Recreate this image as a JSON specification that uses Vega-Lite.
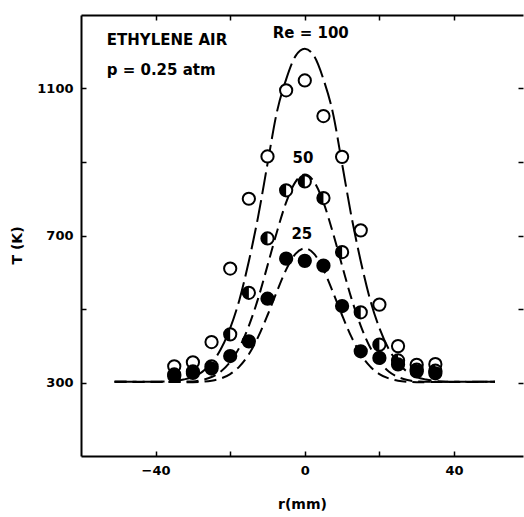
{
  "$schema": "https://vega.github.io/schema/vega-lite/v6.json",
  "width": 442,
  "height": 441,
  "autosize": {"type": "none"},
  "padding": {"left": 81, "top": 15, "right": 1, "bottom": 61},
  "background": "white",
  "config": {
    "view": {"stroke": null},
    "font": "DejaVu Sans",
    "axis": {
      "grid": false,
      "domainColor": "black",
      "domainWidth": 2,
      "tickColor": "black",
      "tickWidth": 1.5,
      "tickSize": -5,
      "labelColor": "black",
      "labelFont": "DejaVu Sans",
      "labelFontWeight": "bold",
      "labelFontSize": 13,
      "labelFlush": false,
      "titleColor": "black",
      "titleFont": "DejaVu Sans",
      "titleFontWeight": "bold",
      "titleFontSize": 14
    },
    "axisRight": {"domain": false}
  },
  "datasets": {
    "curves": [
      {"r": -51, "T": 302, "Re": "100"}, {"r": -40, "T": 302, "Re": "100"}, {"r": -35, "T": 304, "Re": "100"}, {"r": -32.5, "T": 308, "Re": "100"}, {"r": -30, "T": 315, "Re": "100"}, {"r": -27.5, "T": 329, "Re": "100"}, {"r": -25, "T": 353, "Re": "100"}, {"r": -22.5, "T": 391, "Re": "100"}, {"r": -20, "T": 448, "Re": "100"}, {"r": -17.5, "T": 526, "Re": "100"}, {"r": -15, "T": 630, "Re": "100"}, {"r": -12.5, "T": 752, "Re": "100"}, {"r": -10, "T": 895, "Re": "100"}, {"r": -7.5, "T": 1035, "Re": "100"}, {"r": -5, "T": 1125, "Re": "100"}, {"r": -2.5, "T": 1188, "Re": "100"}, {"r": 0, "T": 1208, "Re": "100"}, {"r": 2.5, "T": 1188, "Re": "100"}, {"r": 5, "T": 1125, "Re": "100"}, {"r": 7.5, "T": 1035, "Re": "100"}, {"r": 10, "T": 895, "Re": "100"}, {"r": 12.5, "T": 752, "Re": "100"}, {"r": 15, "T": 630, "Re": "100"}, {"r": 17.5, "T": 526, "Re": "100"}, {"r": 20, "T": 448, "Re": "100"}, {"r": 22.5, "T": 391, "Re": "100"}, {"r": 25, "T": 353, "Re": "100"}, {"r": 27.5, "T": 329, "Re": "100"}, {"r": 30, "T": 315, "Re": "100"}, {"r": 32.5, "T": 308, "Re": "100"}, {"r": 35, "T": 304, "Re": "100"}, {"r": 40, "T": 302, "Re": "100"}, {"r": 51, "T": 302, "Re": "100"},
      {"r": -51, "T": 302, "Re": "50"}, {"r": -35, "T": 302, "Re": "50"}, {"r": -30, "T": 303, "Re": "50"}, {"r": -27.5, "T": 307, "Re": "50"}, {"r": -25, "T": 315, "Re": "50"}, {"r": -22.5, "T": 330, "Re": "50"}, {"r": -20, "T": 356, "Re": "50"}, {"r": -17.5, "T": 396, "Re": "50"}, {"r": -15, "T": 454, "Re": "50"}, {"r": -12.5, "T": 529, "Re": "50"}, {"r": -10, "T": 618, "Re": "50"}, {"r": -7.5, "T": 709, "Re": "50"}, {"r": -5, "T": 790, "Re": "50"}, {"r": -2.5, "T": 846, "Re": "50"}, {"r": 0, "T": 866, "Re": "50"}, {"r": 2.5, "T": 846, "Re": "50"}, {"r": 5, "T": 790, "Re": "50"}, {"r": 7.5, "T": 709, "Re": "50"}, {"r": 10, "T": 618, "Re": "50"}, {"r": 12.5, "T": 529, "Re": "50"}, {"r": 15, "T": 454, "Re": "50"}, {"r": 17.5, "T": 396, "Re": "50"}, {"r": 20, "T": 356, "Re": "50"}, {"r": 22.5, "T": 330, "Re": "50"}, {"r": 25, "T": 315, "Re": "50"}, {"r": 27.5, "T": 307, "Re": "50"}, {"r": 30, "T": 303, "Re": "50"}, {"r": 35, "T": 302, "Re": "50"}, {"r": 51, "T": 302, "Re": "50"},
      {"r": -51, "T": 302, "Re": "25"}, {"r": -30, "T": 301, "Re": "25"}, {"r": -27.5, "T": 302, "Re": "25"}, {"r": -25, "T": 305, "Re": "25"}, {"r": -22.5, "T": 311, "Re": "25"}, {"r": -20, "T": 323, "Re": "25"}, {"r": -17.5, "T": 344, "Re": "25"}, {"r": -15, "T": 377, "Re": "25"}, {"r": -12.5, "T": 424, "Re": "25"}, {"r": -10, "T": 483, "Re": "25"}, {"r": -7.5, "T": 547, "Re": "25"}, {"r": -5, "T": 607, "Re": "25"}, {"r": -2.5, "T": 650, "Re": "25"}, {"r": 0, "T": 665, "Re": "25"}, {"r": 2.5, "T": 650, "Re": "25"}, {"r": 5, "T": 607, "Re": "25"}, {"r": 7.5, "T": 547, "Re": "25"}, {"r": 10, "T": 483, "Re": "25"}, {"r": 12.5, "T": 424, "Re": "25"}, {"r": 15, "T": 377, "Re": "25"}, {"r": 17.5, "T": 344, "Re": "25"}, {"r": 20, "T": 323, "Re": "25"}, {"r": 22.5, "T": 311, "Re": "25"}, {"r": 25, "T": 305, "Re": "25"}, {"r": 27.5, "T": 302, "Re": "25"}, {"r": 30, "T": 301, "Re": "25"}, {"r": 51, "T": 302, "Re": "25"}
    ],
    "points": [
      {"r": -35, "T": 344, "Re": "100"}, {"r": -30, "T": 355, "Re": "100"}, {"r": -25, "T": 410, "Re": "100"}, {"r": -20, "T": 610, "Re": "100"}, {"r": -15, "T": 800, "Re": "100"}, {"r": -10, "T": 915, "Re": "100"}, {"r": -5, "T": 1095, "Re": "100"}, {"r": 0, "T": 1122, "Re": "100"}, {"r": 5, "T": 1025, "Re": "100"}, {"r": 10, "T": 914, "Re": "100"}, {"r": 15, "T": 714, "Re": "100"}, {"r": 20, "T": 512, "Re": "100"}, {"r": 25, "T": 399, "Re": "100"}, {"r": 30, "T": 348, "Re": "100"}, {"r": 35, "T": 350, "Re": "100"},
      {"r": -35, "T": 322, "Re": "50"}, {"r": -30, "T": 330, "Re": "50"}, {"r": -25, "T": 344, "Re": "50"}, {"r": -20, "T": 431, "Re": "50"}, {"r": -15, "T": 544, "Re": "50"}, {"r": -10, "T": 692, "Re": "50"}, {"r": -5, "T": 823, "Re": "50"}, {"r": 0, "T": 847, "Re": "50"}, {"r": 5, "T": 802, "Re": "50"}, {"r": 10, "T": 655, "Re": "50"}, {"r": 15, "T": 491, "Re": "50"}, {"r": 20, "T": 403, "Re": "50"}, {"r": 25, "T": 360, "Re": "50"}, {"r": 30, "T": 335, "Re": "50"}, {"r": 35, "T": 332, "Re": "50"},
      {"r": -35, "T": 318, "Re": "25"}, {"r": -30, "T": 326, "Re": "25"}, {"r": -25, "T": 338, "Re": "25"}, {"r": -20, "T": 372, "Re": "25"}, {"r": -15, "T": 412, "Re": "25"}, {"r": -10, "T": 528, "Re": "25"}, {"r": -5, "T": 637, "Re": "25"}, {"r": 0, "T": 631, "Re": "25"}, {"r": 5, "T": 618, "Re": "25"}, {"r": 10, "T": 508, "Re": "25"}, {"r": 15, "T": 385, "Re": "25"}, {"r": 20, "T": 367, "Re": "25"}, {"r": 25, "T": 349, "Re": "25"}, {"r": 30, "T": 330, "Re": "25"}, {"r": 35, "T": 325, "Re": "25"}
    ],
    "labelsLeft": [
      {"r": -53.1, "T": 1232, "label": "ETHYLENE AIR"},
      {"r": -53.1, "T": 1149, "label": "p = 0.25 atm"}
    ],
    "labelsCenter": [
      {"r": 1.6, "T": 1251, "label": "Re = 100"},
      {"r": -0.5, "T": 911, "label": "50"},
      {"r": -0.8, "T": 703, "label": "25"}
    ]
  },
  "resolve": {"axis": {"x": "independent", "y": "independent"}},
  "layer": [
    {
      "data": {"name": "curves"},
      "mark": {"type": "line", "color": "black", "strokeWidth": 2, "interpolate": "monotone"},
      "encoding": {
        "x": {"field": "r", "type": "quantitative", "scale": {"domain": [-60, 58.5], "nice": false, "zero": false},
          "axis": {"orient": "bottom", "values": [-40, -20, 0, 20, 40], "format": "d", "labelExpr": "datum.value % 40 == 0 ? datum.label : ''", "labelPadding": 13, "title": "r(mm)", "titleY": 41}},
        "y": {"field": "T", "type": "quantitative", "scale": {"domain": [100, 1300], "nice": false, "zero": false},
          "axis": {"orient": "left", "values": [300, 500, 700, 900, 1100], "format": "d", "labelExpr": "(datum.value - 300) % 400 == 0 ? datum.label : ''", "labelPadding": 13, "title": "T (K)", "titleX": -57, "titleY": 230}},
        "detail": {"field": "Re", "type": "nominal"},
        "strokeDash": {"field": "Re", "type": "nominal", "scale": {"domain": ["100", "50", "25"], "range": [[22, 6], [12, 6], [12, 6]]}, "legend": null}
      }
    },
    {
      "data": {"name": "points"},
      "mark": {"type": "point", "shape": "circle", "filled": true, "stroke": "black", "strokeWidth": 2, "size": 150, "opacity": 1},
      "encoding": {
        "x": {"field": "r", "type": "quantitative",
          "axis": {"orient": "top", "values": [-40, -20, 0, 20, 40], "labels": false, "title": null}},
        "y": {"field": "T", "type": "quantitative",
          "axis": {"orient": "right", "values": [300, 500, 700, 900, 1100], "labels": false, "title": null, "domain": false}},
        "fill": {"field": "Re", "type": "nominal", "scale": {"domain": ["100", "50", "25"], "range": ["white", "white", "black"]}, "legend": null}
      }
    },
    {
      "data": {"name": "points"},
      "transform": [{"filter": "datum.Re == '50'"}],
      "mark": {"type": "point", "shape": "M0,-1 A1,1 0 0,0 0,1 Z", "filled": true, "fill": "black", "strokeWidth": 0, "size": 150, "opacity": 1},
      "encoding": {
        "x": {"field": "r", "type": "quantitative", "axis": null},
        "y": {"field": "T", "type": "quantitative", "axis": null}
      }
    },
    {
      "data": {"name": "labelsLeft"},
      "mark": {"type": "text", "align": "left", "baseline": "middle", "font": "DejaVu Sans", "fontWeight": "bold", "fontSize": 15, "color": "black"},
      "encoding": {
        "x": {"field": "r", "type": "quantitative", "axis": null},
        "y": {"field": "T", "type": "quantitative", "axis": null},
        "text": {"field": "label"}
      }
    },
    {
      "data": {"name": "labelsCenter"},
      "mark": {"type": "text", "align": "center", "baseline": "middle", "font": "DejaVu Sans", "fontWeight": "bold", "fontSize": 15, "color": "black"},
      "encoding": {
        "x": {"field": "r", "type": "quantitative", "axis": null},
        "y": {"field": "T", "type": "quantitative", "axis": null},
        "text": {"field": "label"}
      }
    }
  ]
}
